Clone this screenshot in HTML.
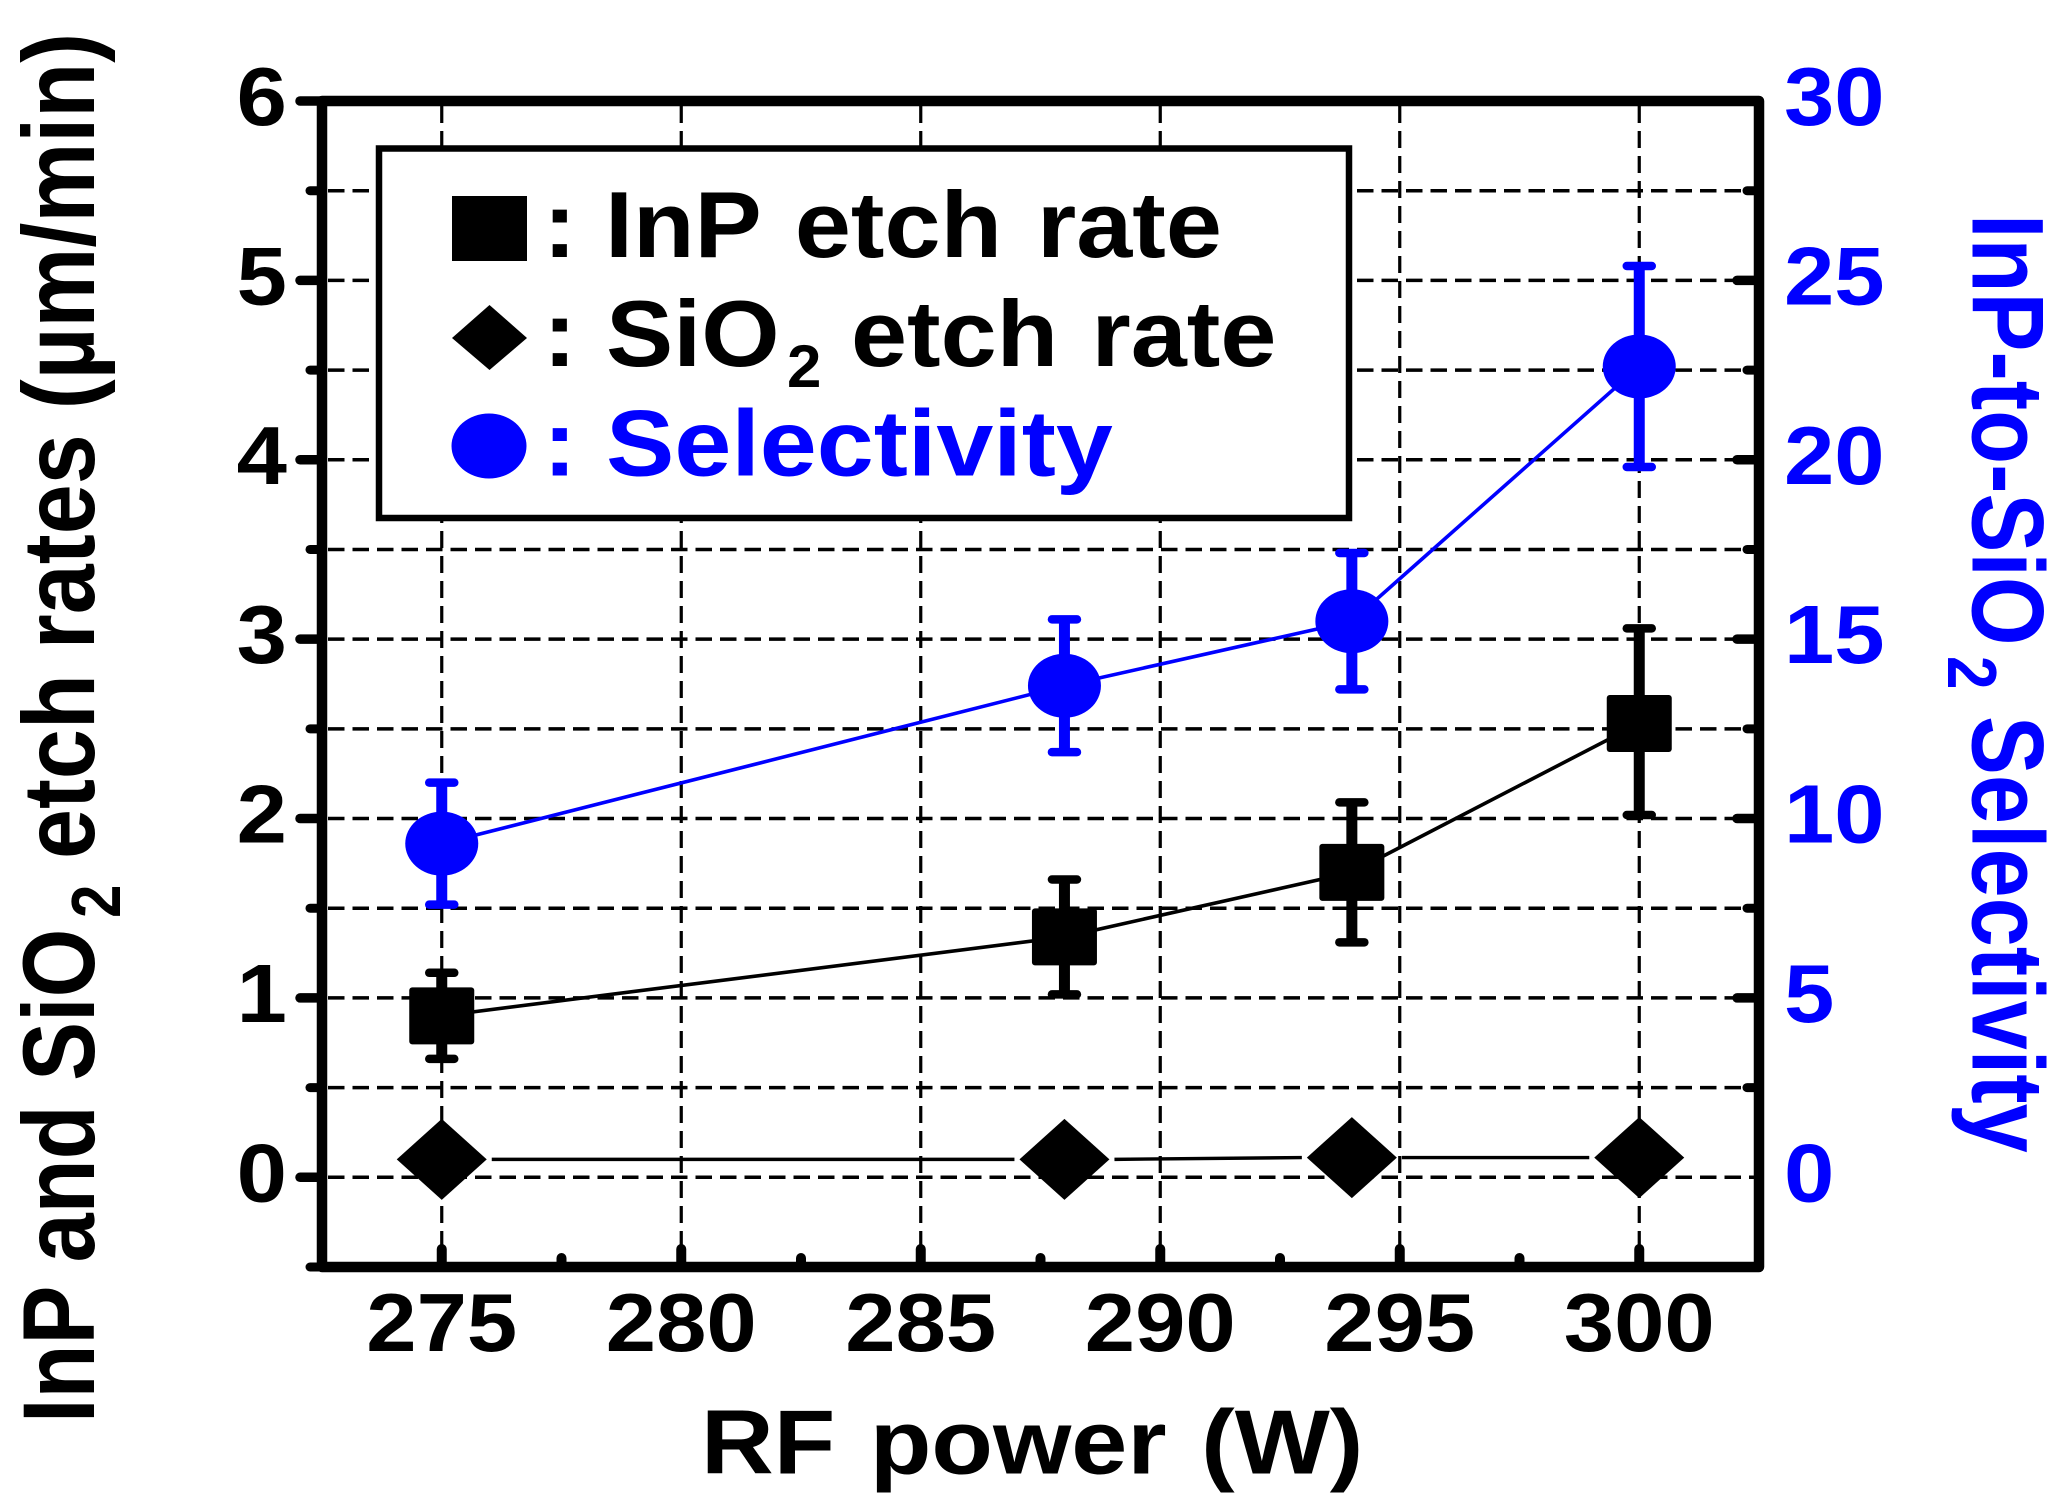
<!DOCTYPE html>
<html lang="en">
<head>
<meta charset="utf-8">
<title>InP and SiO2 etch rates vs RF power</title>
<style>
html,body{margin:0;padding:0;background:#fff;}
svg{display:block;font-family:"Liberation Sans",sans-serif;font-weight:bold;}
</style>
</head>
<body>
<svg id="chart" xmlns="http://www.w3.org/2000/svg" width="2062" height="1507" viewBox="0 0 2062 1507">
  <rect x="0" y="0" width="2062" height="1507" fill="#fff"/>
  <g id="grid"></g>
  <g id="series"></g>
  <g id="axes"></g>

  <g>
    <rect x="379" y="148.5" width="970" height="369.5" fill="#fff" stroke="#000" stroke-width="6.5"/>
    <rect x="452" y="196" width="75" height="65" fill="#000"/>
    <text transform="translate(543,257) scale(1.072,1)" font-size="94" fill="#000">:</text>
    <text transform="translate(605,257) scale(1.072,1)" font-size="94" word-spacing="6.5" fill="#000">InP etch rate</text>
    <polygon points="489.5,305 527,338 489.5,370 452,338" fill="#000"/>
    <text transform="translate(543,366) scale(1.072,1)" font-size="94" fill="#000">:</text>
    <text transform="translate(606,366) scale(1.072,1)" font-size="94" fill="#000">SiO</text>
    <text transform="translate(787,387) scale(1.03,1)" font-size="60" fill="#000">2</text>
    <text transform="translate(851,366) scale(1.072,1)" font-size="94" word-spacing="5" fill="#000">etch rate</text>
    <ellipse cx="489" cy="446" rx="37.5" ry="32.5" fill="#0000ff"/>
    <text transform="translate(543,475.5) scale(1.072,1)" font-size="94" fill="#0000ff">:</text>
    <text transform="translate(606,475.5) scale(1.09,1)" font-size="94" fill="#0000ff">Selectivity</text>
  </g>

  <text transform="translate(701,1473.5) scale(1.107,1)" font-size="91" word-spacing="6" fill="#000">RF power (W)</text>

  <g fill="#000">
    <text transform="translate(94,1423) rotate(-90) scale(1,1.16)" font-size="88.4">InP and SiO</text>
    <text transform="translate(120,918) rotate(-90) scale(1,1.16)" font-size="60">2</text>
    <text transform="translate(94,859) rotate(-90) scale(1.017,1.16)" font-size="88.4">etch rates (µm/min)</text>
  </g>

  <g fill="#0000ff">
    <text transform="translate(1972.5,214) rotate(90) scale(1,1.16)" font-size="88.3">InP-to-SiO</text>
    <text transform="translate(1948,656) rotate(90) scale(1,1.16)" font-size="60">2</text>
    <text transform="translate(1972.5,716) rotate(90) scale(1,1.16)" font-size="88.3">Selectivity</text>
  </g>
</svg>

<script>
var categories = [275, 288, 294, 300];
var inpRate = [0.90, 1.34, 1.70, 2.53];
var inpHigh = [1.14, 1.66, 2.09, 3.06];
var inpLow = [0.66, 1.02, 1.31, 2.02];
var sio2Rate = [0.10, 0.10, 0.11, 0.11];
var selectivity = [9.3, 13.7, 15.5, 22.6];
var selectivityHigh = [11.0, 15.55, 17.4, 25.4];
var selectivityLow = [7.6, 11.85, 13.6, 19.8];
var xTickLabels = [275, 280, 285, 290, 295, 300];
var xMinorTicks = [277.5, 282.5, 287.5, 292.5, 297.5];
var leftTickLabels = [0, 1, 2, 3, 4, 5, 6];
var leftMinorTicks = [-0.5, 0.5, 1.5, 2.5, 3.5, 4.5, 5.5];
var rightTickLabels = [0, 5, 10, 15, 20, 25, 30];

var plotLeft = 322, plotRight = 1759, plotTop = 101, plotBottom = 1267;
var BLACK = '#000', BLUE = '#0000ff';
var NS = 'http://www.w3.org/2000/svg';

function xScale(v) { return plotLeft + (v - 272.5) * (plotRight - plotLeft) / 30; }
function yLeft(v) { return plotBottom - (v + 0.5) * (plotBottom - plotTop) / 6.5; }
function yRight(v) { return yLeft(v / 5); }

function add(tag, attrs, parent) {
  var el = document.createElementNS(NS, tag);
  for (var k in attrs) { el.setAttribute(k, attrs[k]); }
  parent.appendChild(el);
  return el;
}

var gridG = document.getElementById('grid');
var seriesG = document.getElementById('series');
var axesG = document.getElementById('axes');
var el, i, t;

/* grid */
var gridY = leftTickLabels.concat(leftMinorTicks);
for (i = 0; i < gridY.length; i++) {
  el = add('line', {x1: plotLeft + 6, x2: plotRight, y1: yLeft(gridY[i]), y2: yLeft(gridY[i]), stroke: BLACK, 'stroke-width': 3.5, 'stroke-dasharray': '16.5 8'}, gridG);
  
  
}
for (i = 0; i < xTickLabels.length; i++) {
  el = add('line', {x1: xScale(xTickLabels[i]), x2: xScale(xTickLabels[i]), y1: plotTop + 5, y2: plotBottom, stroke: BLACK, 'stroke-width': 3.2, 'stroke-dasharray': '17 8'}, gridG);
  
  
}

/* series lines */
function polyline(xs, ys, color, name) {
  for (var j = 0; j < xs.length - 1; j++) {
    var ln = add('line', {x1: xScale(xs[j]), y1: ys[j], x2: xScale(xs[j + 1]), y2: ys[j + 1], stroke: color, 'stroke-width': 3.6}, seriesG);
    
    
  }
}
polyline(categories, inpRate.map(yLeft), BLACK, 'inp-line');
polyline(categories, selectivity.map(yRight), BLUE, 'selectivity-line');

/* SiO2 line, with gaps around the diamonds */
for (i = 0; i < categories.length - 1; i++) {
  el = add('line', {x1: xScale(categories[i]) + 50, y1: yLeft(sio2Rate[i]), x2: xScale(categories[i + 1]) - 50, y2: yLeft(sio2Rate[i + 1]), stroke: BLACK, 'stroke-width': 3.4}, seriesG);
  
  
}

/* error bars */
function errorBar(px, hiY, loY, color, name) {
  var s = add('line', {x1: px, x2: px, y1: hiY, y2: loY, stroke: color, 'stroke-width': 11}, seriesG);
  
  
  var c1 = add('line', {x1: px - 12.5, x2: px + 12.5, y1: hiY, y2: hiY, stroke: color, 'stroke-width': 8.5, 'stroke-linecap': 'round'}, seriesG);
  
  
  var c2 = add('line', {x1: px - 12.5, x2: px + 12.5, y1: loY, y2: loY, stroke: color, 'stroke-width': 8.5, 'stroke-linecap': 'round'}, seriesG);
  
  
}

for (i = 0; i < categories.length; i++) {
  var px = xScale(categories[i]);

  errorBar(px, yLeft(inpHigh[i]), yLeft(inpLow[i]), BLACK, 'inp-error-bar');
  el = add('rect', {x: px - 32.5, y: yLeft(inpRate[i]) - 28.5, width: 65, height: 57, rx: 3, fill: BLACK}, seriesG);
  
  

  var dy = yLeft(sio2Rate[i]);
  el = add('polygon', {points: px + ',' + (dy - 40.5) + ' ' + (px + 45) + ',' + dy + ' ' + px + ',' + (dy + 40.5) + ' ' + (px - 45) + ',' + dy, fill: BLACK}, seriesG);
  
  

  errorBar(px, yRight(selectivityHigh[i]), yRight(selectivityLow[i]), BLUE, 'selectivity-error-bar');
  el = add('ellipse', {cx: px, cy: yRight(selectivity[i]), rx: 36.5, ry: 32, fill: BLUE}, seriesG);
  
  
}

/* frame */
el = add('rect', {x: plotLeft, y: plotTop, width: plotRight - plotLeft, height: plotBottom - plotTop, fill: 'none', stroke: BLACK, 'stroke-width': 10.5, 'stroke-linejoin': 'round'}, axesG);



/* ticks */
function tick(x1, y1, x2, y2, w, name) {
  var tk = add('line', {x1: x1, y1: y1, x2: x2, y2: y2, stroke: BLACK, 'stroke-width': w, 'stroke-linecap': 'round'}, axesG);
  
  
}
for (i = 0; i < leftTickLabels.length; i++) {
  t = yLeft(leftTickLabels[i]);
  tick(plotLeft, t, 300, t, 9.5, 'left-major-tick');
  if (i > 0) { tick(1737, t, plotRight, t, 9.5, 'right-major-tick'); }
}
for (i = 0; i < leftMinorTicks.length; i++) {
  t = yLeft(leftMinorTicks[i]);
  tick(plotLeft, t, 310, t, 9, 'left-minor-tick');
  if (i > 0) { tick(1747, t, plotRight, t, 9, 'right-minor-tick'); }
}
for (i = 0; i < xTickLabels.length; i++) {
  t = xScale(xTickLabels[i]);
  tick(t, plotBottom, t, 1249, 10, 'x-major-tick');
}
for (i = 0; i < xMinorTicks.length; i++) {
  t = xScale(xMinorTicks[i]);
  tick(t, plotBottom, t, 1258, 10, 'x-minor-tick');
}

/* tick labels */
function label(x, y, str, anchor, color, name) {
  var tx = add('text', {transform: 'translate(' + x + ',' + y + ') scale(1.09,1)', 'font-size': 83, 'text-anchor': anchor, fill: color}, axesG);
  tx.textContent = String(str);
  
  
}
for (i = 0; i < leftTickLabels.length; i++) {
  label(287, yLeft(leftTickLabels[i]) + 24, leftTickLabels[i], 'end', BLACK, 'left-tick-label');
}
for (i = 0; i < rightTickLabels.length; i++) {
  label(1784, yRight(rightTickLabels[i]) + 24, rightTickLabels[i], 'start', BLUE, 'right-tick-label');
}
for (i = 0; i < xTickLabels.length; i++) {
  label(xScale(xTickLabels[i]), 1351, xTickLabels[i], 'middle', BLACK, 'x-tick-label');
}
</script>
</body>
</html>
